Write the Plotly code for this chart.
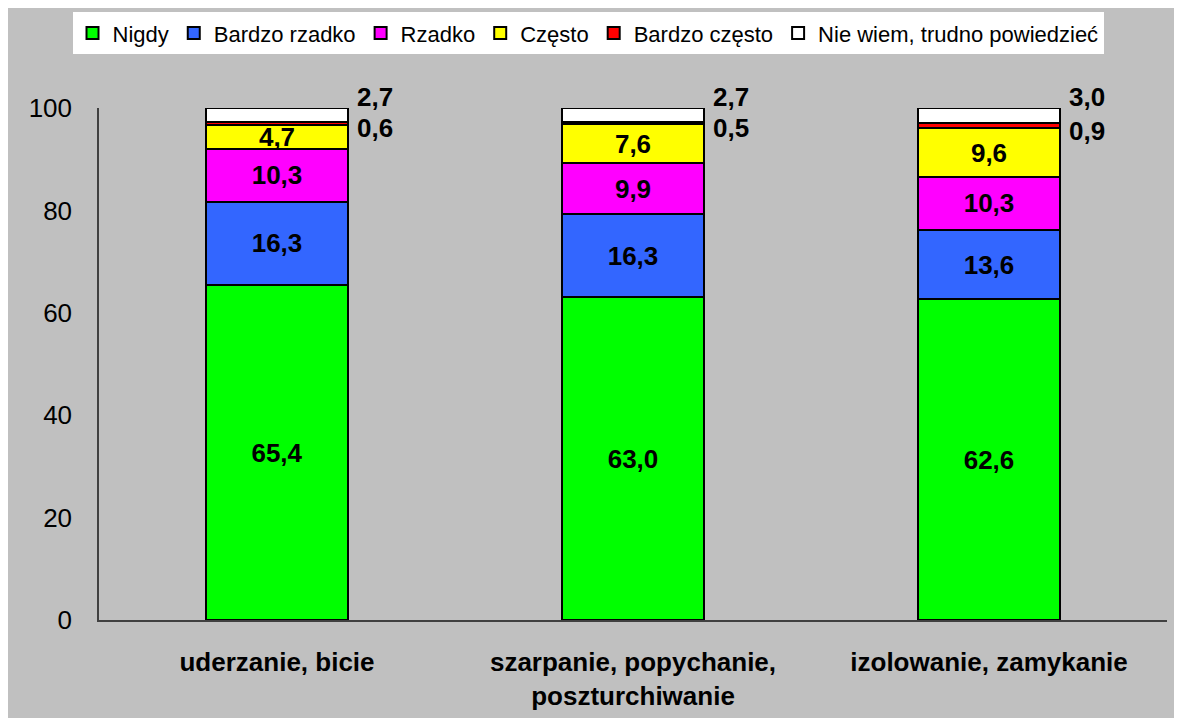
import plotly.graph_objects as go

categories = ["uderzanie, bicie", "szarpanie, popychanie,<br>poszturchiwanie", "izolowanie, zamykanie"]

nigdy = [65.4, 63.0, 62.6]
bardzo_rzadko = [16.3, 16.3, 13.6]
rzadko = [10.3, 9.9, 10.3]
czesto = [4.7, 7.6, 9.6]
bardzo_czesto = [0.6, 0.5, 0.9]
nie_wiem = [2.7, 2.7, 3.0]

series = [
    ("Nigdy", nigdy, "#00FF00", True),
    ("Bardzo rzadko", bardzo_rzadko, "#3366FF", True),
    ("Rzadko", rzadko, "#FF00FF", True),
    ("Często", czesto, "#FFFF00", True),
    ("Bardzo często", bardzo_czesto, "#FF0000", False),
    ("Nie wiem, trudno powiedzieć", nie_wiem, "#FFFFFF", False),
]

FONT = "Liberation Sans, Arial, sans-serif"

fig = go.Figure()
for name, vals, color, inside in series:
    fig.add_trace(go.Bar(
        x=categories, y=vals, name=name,
        marker=dict(color=color, line=dict(color="black", width=2)),
        width=0.4,
        texttemplate="<b>%{y:.1f}</b>" if inside else None,
        textposition="inside" if inside else "none",
        insidetextanchor="middle",
        constraintext="none",
        textfont=dict(family=FONT, size=26, color="black"),
        hoverinfo="skip",
    ))

# small segments labelled beside the bar
for i, cat in enumerate(categories):
    fig.add_annotation(x=cat, y=100, xref="x", yref="y", xanchor="left", yanchor="middle",
                       xshift=78, yshift=11, showarrow=False,
                       text="<b>%s</b>" % f"{nie_wiem[i]:.1f}".replace(".", ","),
                       font=dict(family=FONT, size=26, color="black"))
    mid = 100 - nie_wiem[i] - bardzo_czesto[i] / 2
    fig.add_annotation(x=cat, y=mid, xref="x", yref="y", xanchor="left", yanchor="middle",
                       xshift=78, yshift=-5, showarrow=False,
                       text="<b>%s</b>" % f"{bardzo_czesto[i]:.1f}".replace(".", ","),
                       font=dict(family=FONT, size=26, color="black"))

fig.update_layout(
    width=1182, height=718,
    barmode="stack",
    separators=",.",
    paper_bgcolor="#C0C0C0",
    plot_bgcolor="#C0C0C0",
    margin=dict(l=91, r=23, t=100, b=106),
    font=dict(family=FONT, color="black"),
    showlegend=True,
    legend=dict(orientation="h", xref="container", yref="container",
                x=0.4907, xanchor="center", y=0.965, yanchor="middle",
                bgcolor="white", font=dict(size=22, family=FONT), itemwidth=30,
                traceorder="normal"),
    xaxis=dict(showline=True, linecolor="#404040", linewidth=1.5, ticks="",
               tickfont=dict(size=26, family=FONT), ticklabelstandoff=18,
               showgrid=False, fixedrange=True, tickprefix="<b>", ticksuffix="</b>",
               automargin=False),
    yaxis=dict(range=[0, 100], tickvals=[0, 20, 40, 60, 80, 100], showline=True,
               linecolor="#404040", linewidth=1.5, ticks="", showgrid=False,
               zeroline=False, tickfont=dict(size=26, family=FONT), ticklabelstandoff=20,
               automargin=False),
)

fig.write_html("out.html")
